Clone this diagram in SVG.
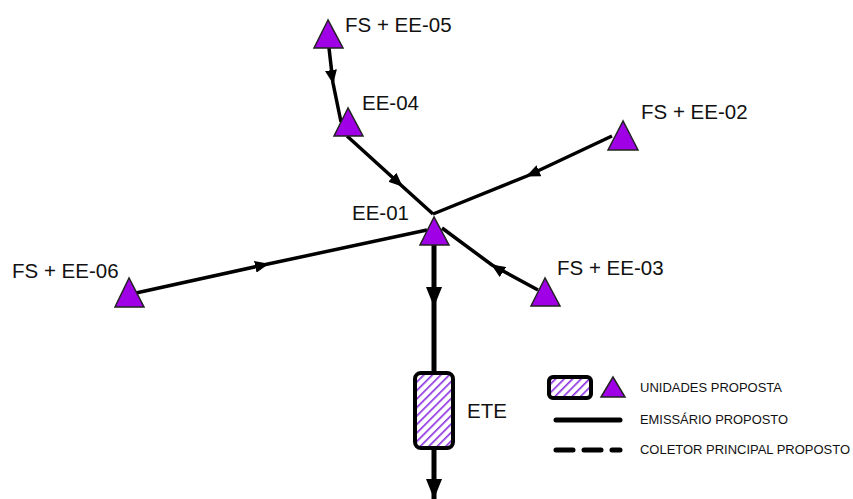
<svg xmlns="http://www.w3.org/2000/svg" width="853" height="499" viewBox="0 0 853 499">
<defs>
<pattern id="hatch" patternUnits="userSpaceOnUse" width="6" height="6" patternTransform="rotate(45)">
<rect width="6" height="6" fill="#fff"/>
<rect x="0" y="0" width="1.6" height="6" fill="#8a2be2"/>
</pattern>
<marker id="arr" markerWidth="14" markerHeight="12" refX="13" refY="6" orient="auto" markerUnits="userSpaceOnUse">
<path d="M0,0 L14,6 L0,12 Z" fill="#000"/>
</marker>
<marker id="arrB" markerWidth="20" markerHeight="16" refX="20" refY="8" orient="auto" markerUnits="userSpaceOnUse">
<path d="M0,0 L20,8 L0,16 Z" fill="#000"/>
</marker>
</defs>
<style>
.tri{fill:#a000e6;stroke:#222;stroke-width:1.5;stroke-linejoin:miter}
.con{fill:none;stroke:#000;stroke-width:3.5;marker-mid:url(#arr)}
.main{fill:none;stroke:#000;stroke-width:5}
.lbl{font-family:"Liberation Sans",Arial,sans-serif;font-size:20.5px;fill:#111}
.leg{font-family:"Liberation Sans",Arial,sans-serif;font-size:13px;fill:#111}
</style>
<g id="connectors">
<path class="con" d="M329,48 L333,83 L341,122"/>
<path class="con" d="M347,136 L402,186 L433,214"/>
<path class="con" d="M612,136 L527,176 L433,214"/>
<path class="con" d="M136,293 L268,264 L427,230"/>
<path class="con" d="M538,290 L492,265 L442,228"/>
<path class="main" d="M434,245 L434,307 L434,373" style="marker-mid:url(#arrB)"/>
<path class="main" d="M434,448 L434,499" style="marker-end:url(#arrB)"/>
</g>
<g id="EE-05">
<polygon class="tri" points="328,20 314,48 343,48"/>
<text class="lbl" x="345" y="32">FS + EE-05</text>
</g>
<g id="EE-04">
<polygon class="tri" points="348,108 334,136 363,136"/>
<text class="lbl" x="362" y="110">EE-04</text>
</g>
<g id="EE-02">
<polygon class="tri" points="623,121 608,150 638,150"/>
<text class="lbl" x="641" y="119">FS + EE-02</text>
</g>
<g id="EE-01">
<polygon class="tri" points="434,217 420,245 449,245"/>
<text class="lbl" x="352" y="220">EE-01</text>
</g>
<g id="EE-03">
<polygon class="tri" points="545,278 531,306 560,306"/>
<text class="lbl" x="557" y="275">FS + EE-03</text>
</g>
<g id="EE-06">
<polygon class="tri" points="129,278 115,307 144,307"/>
<text class="lbl" x="12" y="278">FS + EE-06</text>
</g>
<g id="ETE">
<rect x="415" y="373" width="38" height="75" rx="6" fill="url(#hatch)" stroke="#000" stroke-width="4"/>
<text class="lbl" x="467" y="418">ETE</text>
</g>
<g id="legend">
<rect x="549" y="377" width="42" height="21" rx="4" fill="url(#hatch)" stroke="#000" stroke-width="4"/>
<polygon class="tri" points="613,377 601,397 625,397"/>
<text class="leg" x="640" y="392" textLength="142" lengthAdjust="spacingAndGlyphs">UNIDADES PROPOSTA</text>
<line x1="556" y1="420" x2="620" y2="420" stroke="#000" stroke-width="5" stroke-linecap="round"/>
<text class="leg" x="640" y="424" textLength="148" lengthAdjust="spacingAndGlyphs">EMISSÁRIO PROPOSTO</text>
<line x1="556" y1="450" x2="620" y2="450" stroke="#000" stroke-width="5" stroke-linecap="round" stroke-dasharray="17,11"/>
<text class="leg" x="640" y="454" textLength="210" lengthAdjust="spacingAndGlyphs">COLETOR PRINCIPAL PROPOSTO</text>
</g>
</svg>
